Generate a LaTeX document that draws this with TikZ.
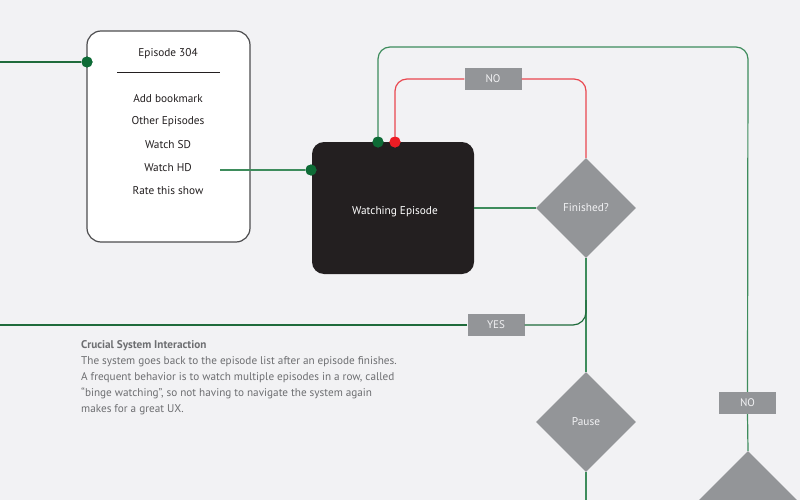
\documentclass[tikz,border=0pt]{standalone}
\usepackage{fontspec}
\setmainfont{PT Sans}
\usetikzlibrary{positioning}
\usetikzlibrary{shapes.geometric}
\definecolor{bgcol}{HTML}{F2F2F4}
\definecolor{linegreen}{HTML}{3E8C5C}
\definecolor{darkgreen}{HTML}{1F6B3B}
\definecolor{dotgreen}{HTML}{0E6B36}
\definecolor{linered}{HTML}{E9474F}
\definecolor{dotred}{HTML}{ED1C24}
\definecolor{boxgray}{HTML}{939598}
\definecolor{textgray}{HTML}{6D6E71}
\definecolor{nearblack}{HTML}{231F20}
\definecolor{framegray}{HTML}{4D4D4F}
\tikzset{
	% connectors
	flowline/.style={draw=linegreen,line width=1.2pt},
	backline/.style={draw=darkgreen,line width=1.2pt},
	noline/.style={draw=linered,line width=1.2pt},
	% ports on the boxes
	gport/.style={fill=dotgreen,circle,inner sep=0pt,minimum size=11pt},
	rport/.style={fill=dotred,circle,inner sep=0pt,minimum size=11pt},
	% boxes
	menubox/.style={draw=framegray,fill=white,line width=1.2pt,rounded corners=14pt,
		minimum width=163pt,minimum height=211pt,inner sep=0pt},
	statebox/.style={fill=nearblack,text=white,rounded corners=12pt,
		minimum width=162pt,minimum height=132pt,inner sep=0pt,font=\fontsize{11.3}{13}\selectfont},
	decision/.style={diamond,fill=boxgray,text=bgcol,inner sep=0pt,aspect=1,
		minimum size=100pt,font=\fontsize{11.3}{13}\selectfont},
	answer/.style={fill=boxgray,text=bgcol,minimum width=57pt,minimum height=22pt,
		inner sep=0pt,font=\fontsize{11}{13}\selectfont},
	item/.style={text=nearblack,inner sep=0pt,font=\fontsize{11.3}{13}\selectfont},
}
\begin{document}
\begin{tikzpicture}[x=1pt,y=-1pt]
\fill[bgcol] (0,0) rectangle (800,500);
\useasboundingbox (0,0) rectangle (800,500);
\clip (0,0) rectangle (800,500);
% the episode menu
\node[menubox] (menu) at (168.5,136.5) {};
\node[item] (title) at (168,54) {Episode 304};
\draw[nearblack,line width=0.9pt] (117,72) -- (220,72);
\foreach \txt/\y [count=\i] in {Add bookmark/99,Other Episodes/122,Watch SD/145,Watch HD/168,Rate this show/191}
  \node[item] (opt\i) at (168,\y) {\txt};
% the player and the decisions
\node[statebox] (watch) at (393,208) {};
\node[text=white,font=\fontsize{11.3}{13}\selectfont] (watchlabel) at (395,212) {Watching Episode};
\node[decision] (finished) at (586,208) {Finished?};
\node[decision] (pause) at (586,422) {Pause};
\node[decision,minimum size=140pt] (next) at (748,521) {};
% ports
\node[gport] (menuin) at (87,62) {};
\node[gport] (watchin) at (311,170) {};
\node[gport] (loopin) at (378,142) {};
\node[rport] (resume) at (395,142) {};
% free ends and bends
\coordinate (left top) at (0,62);
\coordinate (left mid) at (0,325);
\coordinate (hd out) at (220,170);
\coordinate (top right) at (748,47);
\coordinate (split) at (586,300);
\coordinate (bottom) at (586,500);
% answers
\node[answer] (no1) at (493,79) {NO};
\node[answer] (yes) at (496,325) {YES};
\node[answer] (no2) at (747.5,403) {NO};
% connectors
\draw[backline] (left top) -- (menuin);
\draw[flowline] (hd out) -- (watchin);
\draw[flowline] (watch.east) -- (finished.west);
\draw[flowline] (finished.south) -- (pause.north);
\draw[flowline] (pause.south) -- (bottom);
\draw[noline,rounded corners=12pt] (resume) |- (no1.west);
\draw[noline,rounded corners=12pt] (no1.east) -| (finished.north);
\draw[flowline,rounded corners=12pt] (loopin) |- (top right) -- (no2.north);
\draw[flowline] (no2.south) -- (next.north);
\draw[backline,rounded corners=13pt] (split) |- (yes.east);
\draw[backline] (yes.west) -- (left mid);
% redraw ports on top of the lines
\node[gport] at (menuin) {};
\node[gport] at (watchin) {};
\node[gport] at (loopin) {};
\node[rport] at (resume) {};
% the note
\node[anchor=north west,align=left,text=textgray,inner sep=0pt,
  font=\fontsize{11.2}{16}\selectfont] (note) at (81,340)
  {\textbf{Crucial System Interaction}\\
   The system goes back to the episode list after an episode finishes.\\
   A frequent behavior is to watch multiple episodes in a row, called\\
   “binge watching”, so not having to navigate the system again\\
   makes for a great UX.};
\end{tikzpicture}
\end{document}
